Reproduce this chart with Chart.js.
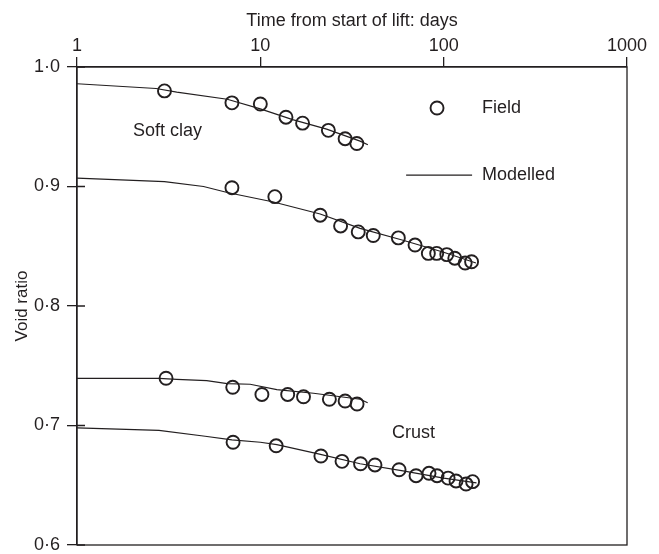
<!DOCTYPE html>
<html>
<head>
<meta charset="utf-8">
<script src="https://cdn.jsdelivr.net/npm/chart.js@4.4.1/dist/chart.umd.min.js"></script>
<style>
  html, body { margin: 0; padding: 0; background: #ffffff; }
  #wrap { width: 659px; height: 554px; }
</style>
</head>
<body>
<div id="wrap"><canvas id="c" width="659" height="554"></canvas></div>
<script>
// Tick values on each axis
const dayTicks = [1, 10, 100, 1000];
const voidTicks = [0.6, 0.7, 0.8, 0.9, 1.0];

// Soft clay, upper profile: field readings and modelled curve
const softUpperDays  = [3.0, 7.0, 10.0, 13.8, 17.0, 23.5, 29.0, 33.6];
const softUpperVoid  = [0.980, 0.970, 0.969, 0.958, 0.953, 0.947, 0.940, 0.936];
const softUpperModelDays = [1, 2.7, 3.5, 6.6, 10, 15, 23, 35, 38.6];
const softUpperModelVoid = [0.986, 0.982, 0.979, 0.973, 0.965, 0.956, 0.948, 0.938, 0.935];

// Soft clay, lower profile
const softLowerDays  = [7.0, 12.0, 21.2, 27.4, 34.2, 41.3, 56.6, 69.8, 82.5, 91.6, 104, 115, 131, 142];
const softLowerVoid  = [0.899, 0.8915, 0.876, 0.867, 0.862, 0.859, 0.857, 0.851, 0.844, 0.844, 0.843, 0.840, 0.836, 0.837];
const softLowerModelDays = [1, 3, 4.9, 6.6, 11.8, 21.2, 35, 60, 100, 150];
const softLowerModelVoid = [0.907, 0.904, 0.900, 0.895, 0.887, 0.877, 0.865, 0.855, 0.845, 0.836];

// Crust, upper profile
const crustUpperDays = [3.06, 7.07, 10.2, 14.1, 17.2, 23.8, 29.0, 33.7];
const crustUpperVoid = [0.7395, 0.732, 0.726, 0.726, 0.724, 0.722, 0.7205, 0.718];
const crustUpperModelDays = [1, 2.8, 3.5, 5.1, 6.6, 8.8, 12.3, 19.5, 35, 38.5];
const crustUpperModelVoid = [0.7395, 0.7395, 0.7386, 0.7375, 0.735, 0.7345, 0.730, 0.727, 0.722, 0.719];

// Crust, lower profile
const crustLowerDays = [7.1, 12.2, 21.4, 27.9, 35.2, 42.2, 57.1, 70.7, 83.2, 92, 105.7, 116.8, 132.5, 143.8];
const crustLowerVoid = [0.686, 0.683, 0.6745, 0.670, 0.668, 0.667, 0.663, 0.658, 0.660, 0.658, 0.656, 0.6536, 0.651, 0.653];
const crustLowerModelDays = [1, 2.8, 5, 7, 10, 12.3, 21, 35, 60, 100, 151];
const crustLowerModelVoid = [0.698, 0.696, 0.691, 0.688, 0.686, 0.684, 0.676, 0.668, 0.662, 0.656, 0.652];

// Text placed inside the plot, anchored in data coordinates (left edge, vertical middle)
const notes = [
  { text: 'Soft clay', x: 2.02, y: 0.9467 },
  { text: 'Crust',     x: 52.3, y: 0.6937 },
  { text: 'Field',     x: 162,  y: 0.9657 },
  { text: 'Modelled',  x: 162,  y: 0.9096 }
];
const legendCircle = { x: 92, y: 0.9657 };
const legendLine = { x0: 62.4, x1: 142.9, y: 0.9096 };

const INK = '#231f20';
const FONT = '"Liberation Sans", Arial, Helvetica, sans-serif';

const pairs = (xs, ys) => xs.map((v, i) => ({ x: v, y: ys[i] }));

const fieldStyle = {
  showLine: false,
  pointStyle: 'circle',
  pointRadius: 6.5,
  pointBorderWidth: 1.9,
  pointBorderColor: INK,
  pointBackgroundColor: 'rgba(0,0,0,0)',
  borderColor: INK
};
const modelStyle = {
  showLine: true,
  pointRadius: 0,
  borderWidth: 1.2,
  borderColor: INK,
  tension: 0,
  fill: false
};

const datasets = [
  { label: 'Modelled', data: pairs(softUpperModelDays, softUpperModelVoid), ...modelStyle },
  { label: 'Modelled', data: pairs(softLowerModelDays, softLowerModelVoid), ...modelStyle },
  { label: 'Modelled', data: pairs(crustUpperModelDays, crustUpperModelVoid), ...modelStyle },
  { label: 'Modelled', data: pairs(crustLowerModelDays, crustLowerModelVoid), ...modelStyle },
  { label: 'Field', data: pairs(softUpperDays, softUpperVoid), ...fieldStyle },
  { label: 'Field', data: pairs(softLowerDays, softLowerVoid), ...fieldStyle },
  { label: 'Field', data: pairs(crustUpperDays, crustUpperVoid), ...fieldStyle },
  { label: 'Field', data: pairs(crustLowerDays, crustLowerVoid), ...fieldStyle }
];

// Frame, inner halves of the void-ratio ticks, text notes and the key
const decor = {
  id: 'decor',
  afterDraw(chart) {
    const { ctx, chartArea: a, scales: { x, y } } = chart;
    ctx.save();
    ctx.strokeStyle = INK;
    ctx.lineWidth = 1.3;
    ctx.strokeRect(a.left, a.top, a.right - a.left, a.bottom - a.top);

    ctx.beginPath();
    voidTicks.forEach(v => {
      const py = y.getPixelForValue(v);
      ctx.moveTo(a.left, py);
      ctx.lineTo(a.left + 8, py);
    });
    ctx.stroke();

    ctx.fillStyle = INK;
    ctx.font = '18px ' + FONT;
    ctx.textAlign = 'left';
    ctx.textBaseline = 'middle';
    notes.forEach(n => ctx.fillText(n.text, x.getPixelForValue(n.x), y.getPixelForValue(n.y)));

    ctx.lineWidth = 1.9;
    ctx.beginPath();
    ctx.arc(x.getPixelForValue(legendCircle.x), y.getPixelForValue(legendCircle.y), 6.5, 0, Math.PI * 2);
    ctx.stroke();

    ctx.lineWidth = 1.2;
    ctx.beginPath();
    const ly = y.getPixelForValue(legendLine.y);
    ctx.moveTo(x.getPixelForValue(legendLine.x0), ly);
    ctx.lineTo(x.getPixelForValue(legendLine.x1), ly);
    ctx.stroke();
    ctx.restore();
  }
};

new Chart(document.getElementById('c'), {
  type: 'scatter',
  data: { datasets },
  options: {
    responsive: false,
    animation: false,
    devicePixelRatio: 1,
    layout: { padding: { left: 0, right: 32, top: 0, bottom: 9 } },
    plugins: {
      legend: { display: false },
      tooltip: { enabled: false }
    },
    scales: {
      x: {
        type: 'logarithmic',
        position: 'top',
        min: 1,
        max: 1000,
        afterBuildTicks: s => { s.ticks = dayTicks.map(v => ({ value: v, major: true })); },
        afterFit: s => { s.height = 67; s.paddingLeft = 0; s.paddingRight = 0; },
        ticks: {
          autoSkip: false,
          maxRotation: 0,
          padding: 0,
          color: INK,
          font: { family: FONT, size: 18 },
          callback: v => String(v)
        },
        grid: { drawOnChartArea: false, tickLength: 10, color: INK, lineWidth: 1.3 },
        border: { color: INK, width: 1.3 },
        title: {
          display: true,
          text: 'Time from start of lift: days',
          color: INK,
          font: { family: FONT, size: 18 },
          padding: { top: 10, bottom: 0 }
        }
      },
      y: {
        type: 'linear',
        min: 0.6,
        max: 1.0,
        afterBuildTicks: s => { s.ticks = voidTicks.map(v => ({ value: v })); },
        afterFit: s => { s.width = 77; s.paddingTop = 0; s.paddingBottom = 0; },
        ticks: {
          padding: 7,
          color: INK,
          font: { family: FONT, size: 18 },
          callback: v => v.toFixed(1).replace('.', '\u00b7')
        },
        grid: { drawOnChartArea: false, tickLength: 10, color: INK, lineWidth: 1.3 },
        border: { color: INK, width: 1.3 },
        title: {
          display: true,
          text: 'Void ratio',
          color: INK,
          font: { family: FONT, size: 17 },
          padding: { top: 12, bottom: 0 }
        }
      }
    }
  },
  plugins: [decor]
});
</script>
</body>
</html>
